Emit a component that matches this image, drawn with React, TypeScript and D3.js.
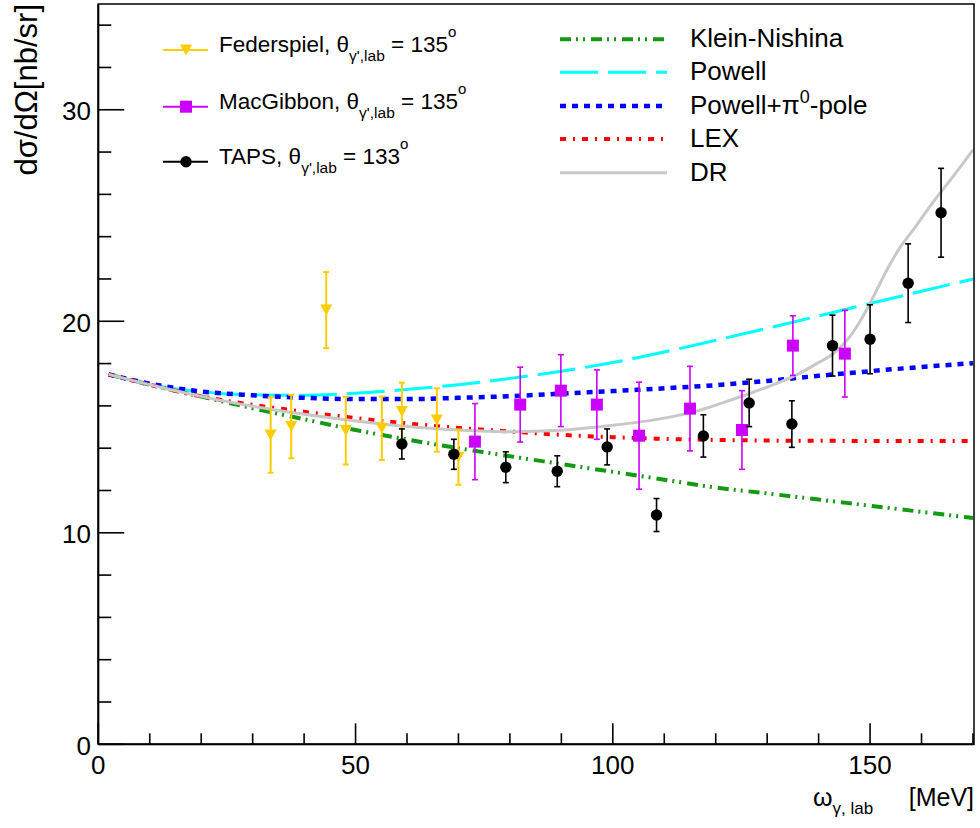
import React from "react";
import * as d3 from "d3";

const FONT = "'Liberation Sans', Arial, Helvetica, sans-serif";

// ---- theory curves (energy grid in MeV, dσ/dΩ in nb/sr) ----
const curveE = [2, 10, 20, 30, 40, 50, 60, 70, 80, 90, 100, 110, 120, 130, 140, 150, 160, 170];
const kleinNishina = [17.49, 17.0, 16.44, 15.89, 15.37, 14.86, 14.41, 14.0, 13.62, 13.25, 12.88, 12.51, 12.14, 11.86, 11.57, 11.28, 10.99, 10.7];
const powell = [17.49, 17.02, 16.67, 16.52, 16.5, 16.6, 16.78, 17.0, 17.3, 17.64, 18.05, 18.55, 19.1, 19.67, 20.25, 20.84, 21.42, 22.0];
const powellPi0 = [17.49, 17.05, 16.68, 16.5, 16.38, 16.32, 16.32, 16.38, 16.46, 16.58, 16.7, 16.83, 16.98, 17.18, 17.42, 17.64, 17.84, 18.02];
const lex = [17.49, 17.0, 16.45, 16.05, 15.72, 15.42, 15.17, 14.96, 14.79, 14.63, 14.52, 14.44, 14.39, 14.36, 14.35, 14.34, 14.34, 14.34];
const drE = [2, 10, 20, 30, 40, 50, 60, 70, 80, 90, 100, 110, 117, 122, 127, 132, 136, 140, 143, 146, 148, 150, 152, 154, 156, 158, 162, 166, 170];
const drV = [17.49, 17.0, 16.45, 15.98, 15.6, 15.28, 15.02, 14.86, 14.78, 14.85, 15.08, 15.42, 15.8, 16.2, 16.62, 17.08, 17.5, 18.05, 18.5, 19.25, 19.98, 20.85, 21.82, 22.75, 23.55, 24.2, 25.55, 26.8, 28.1];

// ---- data ----
const fedE = [33.5, 37.5, 44.3, 48.1, 55.1, 59.0, 65.8, 70.0];
const fedV = [14.62, 15.02, 20.53, 14.83, 14.94, 15.73, 15.33, 13.57];
const fedErr = [1.78, 1.5, 1.8, 1.6, 1.5, 1.37, 1.5, 1.3];

const macE = [73.2, 82.0, 89.9, 96.9, 105.1, 115.0, 125.1, 135.0, 145.1];
const macV = [14.31, 16.06, 16.72, 16.06, 14.59, 15.87, 14.86, 18.85, 18.47];
const macErr = [1.8, 1.77, 1.7, 1.64, 2.53, 2.0, 1.86, 1.41, 2.05];

const tapsE = [59.0, 69.1, 79.2, 89.2, 98.9, 108.5, 117.6, 126.5, 134.8, 142.7, 150.0, 157.4, 163.8];
const tapsV = [14.2, 13.71, 13.1, 12.91, 14.06, 10.84, 14.58, 16.14, 15.14, 18.85, 19.15, 21.8, 25.13];
const tapsErr = [0.71, 0.71, 0.73, 0.73, 0.85, 0.78, 1.0, 1.12, 1.1, 1.44, 1.63, 1.86, 2.1];

const xTicksMajor = [0, 50, 100, 150];
const yTicksMajor = [0, 10, 20, 30];

const C_GREEN = "#139913";
const C_CYAN = "#00ffff";
const C_BLUE = "#0000ff";
const C_RED = "#ff0000";
const C_GRAY = "#c8c8c8";
const C_YEL = "#ffcc00";
const C_MAG = "#cc00ff";

const triDown = "M-6,-5.5L6,-5.5L0,5.5Z";

export default function App() {
  const x = d3.scaleLinear().domain([0, 170.2]).range([98.3, 974]);
  const y = d3.scaleLinear().domain([0, 35]).range([744.3, 4]);
  const line = d3
    .line<[number, number]>()
    .x((d) => x(d[0]))
    .y((d) => y(d[1]))
    .curve(d3.curveMonotoneX);

  const zip = (a: number[], b: number[]) => a.map((v, i) => [v, b[i]] as [number, number]);

  const xMinor = d3.range(0, 171, 10).filter((v) => v % 50 !== 0);
  const yMinor = d3.range(0, 35.01, 2).filter((v) => v % 10 !== 0);

  const curves = [
    { name: "Klein-Nishina", pts: zip(curveE, kleinNishina), color: C_GREEN, w: 4, dash: "11 5 2 5 2 6" },
    { name: "Powell", pts: zip(curveE, powell), color: C_CYAN, w: 3, dash: "38 10" },
    { name: "Powell+pi0", pts: zip(curveE, powellPi0), color: C_BLUE, w: 4.5, dash: "6 6" },
    { name: "LEX", pts: zip(curveE, lex), color: C_RED, w: 4, dash: "6 7 2 7" },
    { name: "DR", pts: zip(drE, drV), color: C_GRAY, w: 3, dash: undefined as string | undefined },
  ];

  const errBar = (ex: number, v: number, e: number, color: string, sw: number, key: string) => {
    const cx = x(ex);
    const y1 = y(v + e);
    const y2 = y(v - e);
    return (
      <g key={key} stroke={color} strokeWidth={sw}>
        <line x1={cx} x2={cx} y1={y1} y2={y2} />
        <line x1={cx - 3} x2={cx + 3} y1={y1} y2={y1} />
        <line x1={cx - 3} x2={cx + 3} y1={y2} y2={y2} />
      </g>
    );
  };

  const legendRows1 = [
    { label: "Federspiel", angle: "135", color: C_YEL, marker: "tri", row: 50 },
    { label: "MacGibbon", angle: "135", color: C_MAG, marker: "sq", row: 106.7 },
    { label: "TAPS", angle: "133", color: "#000000", marker: "dot", row: 161.7 },
  ];

  const legendRows2 = [
    { idx: 0, row: 39.3 },
    { idx: 1, row: 72.3 },
    { idx: 2, row: 106 },
    { idx: 3, row: 139 },
    { idx: 4, row: 172.7 },
  ];

  const drawMarker = (kind: string, cx: number, cy: number, color: string) => {
    if (kind === "tri") return <path d={triDown} transform={`translate(${cx},${cy})`} fill={color} />;
    if (kind === "sq") return <rect x={cx - 6} y={cy - 6} width={12} height={12} fill={color} />;
    return <circle cx={cx} cy={cy} r={5.7} fill={color} />;
  };

  return (
    <svg
      width={980}
      height={828}
      style={{ position: "absolute", left: 0, top: 0, background: "#fff" }}
      fontFamily={FONT}
    >
      <rect x={0} y={0} width={980} height={828} fill="#fff" />

      {/* curves */}
      <g fill="none">
        {curves.map((c) => (
          <path
            key={c.name}
            d={line(c.pts) || ""}
            stroke={c.color}
            strokeWidth={c.w}
            strokeDasharray={c.dash}
          />
        ))}
      </g>

      {/* Federspiel */}
      <g>
        {fedE.map((e, i) => errBar(e, fedV[i], fedErr[i], C_YEL, 2, "fe" + i))}
        {fedE.map((e, i) => (
          <path key={"fm" + i} d={triDown} transform={`translate(${x(e)},${y(fedV[i])})`} fill={C_YEL} />
        ))}
      </g>
      {/* MacGibbon */}
      <g>
        {macE.map((e, i) => errBar(e, macV[i], macErr[i], C_MAG, 1.6, "me" + i))}
        {macE.map((e, i) => (
          <rect key={"mm" + i} x={x(e) - 6} y={y(macV[i]) - 6} width={12} height={12} fill={C_MAG} />
        ))}
      </g>
      {/* TAPS */}
      <g>
        {tapsE.map((e, i) => errBar(e, tapsV[i], tapsErr[i], "#000", 1.6, "te" + i))}
        {tapsE.map((e, i) => (
          <circle key={"tm" + i} cx={x(e)} cy={y(tapsV[i])} r={5.7} fill="#000" />
        ))}
      </g>

      {/* frame */}
      <rect x={98.3} y={4} width={974 - 98.3} height={744.3 - 4} fill="none" stroke="#000" strokeWidth={1.5} />
      <line x1={98.3} x2={98.3} y1={4} y2={744.3} stroke="#000" strokeWidth={2} />
      <line x1={98.3} x2={974} y1={744.3} y2={744.3} stroke="#000" strokeWidth={2} />

      {/* ticks */}
      <g stroke="#000" strokeWidth={1.6}>
        {xTicksMajor.map((t) => (
          <line key={"xM" + t} x1={x(t)} x2={x(t)} y1={744.3} y2={744.3 - 21} />
        ))}
        {xMinor.map((t) => (
          <line key={"xm" + t} x1={x(t)} x2={x(t)} y1={744.3} y2={744.3 - 11} />
        ))}
        {yTicksMajor.map((t) => (
          <line key={"yM" + t} x1={98.3} x2={98.3 + 26} y1={y(t)} y2={y(t)} />
        ))}
        {yMinor.map((t) => (
          <line key={"ym" + t} x1={98.3} x2={98.3 + 13} y1={y(t)} y2={y(t)} />
        ))}
      </g>
      <g fontSize={26} fill="#000">
        {xTicksMajor.map((t) => (
          <text key={"xl" + t} x={x(t)} y={774} textAnchor="middle">
            {t}
          </text>
        ))}
        {yTicksMajor.map((t) => (
          <text key={"yl" + t} x={91} y={y(t) + 10.5} textAnchor="end">
            {t}
          </text>
        ))}
      </g>

      {/* axis titles */}
      <text x={813} y={806} fontSize={25}>
        ω
        <tspan fontSize={17} dy={8}>γ, lab</tspan>
      </text>
      <text x={974} y={806} fontSize={25} textAnchor="end">[MeV]</text>
      <text transform="translate(37,4) rotate(-90)" textAnchor="end" fontSize={31}>
        dσ/dΩ[nb/sr]
      </text>

      {/* legend 1 */}
      {legendRows1.map((r) => (
        <g key={r.label}>
          <line x1={163} x2={208} y1={r.row} y2={r.row} stroke={r.color} strokeWidth={2} />
          {drawMarker(r.marker, 186, r.row, r.color)}
          <text x={219} y={r.row + 2} fontSize={22.5}>
            {r.label + ", θ"}
            <tspan fontSize={15.5} dy={9}>γ',lab</tspan>
            <tspan dy={-9}>{" = " + r.angle}</tspan>
            <tspan fontSize={15} dy={-15}>o</tspan>
          </text>
        </g>
      ))}

      {/* legend 2 */}
      {legendRows2.map((r) => {
        const c = curves[r.idx];
        return (
          <g key={"l2" + r.idx}>
            <line
              x1={560}
              x2={667}
              y1={r.row}
              y2={r.row}
              stroke={c.color}
              strokeWidth={c.w}
              strokeDasharray={c.dash}
            />
            <text x={690} y={r.row + 8} fontSize={26}>
              {r.idx === 2 ? (
                <>
                  Powell+π
                  <tspan fontSize={18} dy={-11}>0</tspan>
                  <tspan dy={11}>-pole</tspan>
                </>
              ) : (
                c.name
              )}
            </text>
          </g>
        );
      })}
    </svg>
  );
}
